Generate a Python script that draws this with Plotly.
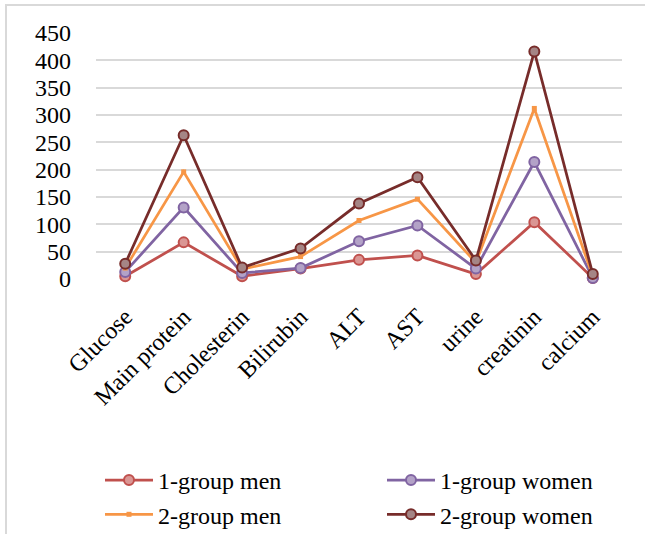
import plotly.graph_objects as go

# Biochemical indicators measured for each group
categories = ["Glucose", "Main protein", "Cholesterin", "Bilirubin", "ALT",
              "AST", "urine", "creatinin", "calcium"]

group1_men = [5, 67, 5, 19, 35, 43, 9, 104, 2]
group1_women = [13, 131, 11, 20, 69, 98, 19, 214, 2]
group2_men = [20, 196, 18, 41, 107, 146, 30, 312, 5]
group2_women = [28, 263, 21, 56, 138, 186, 34, 416, 9]

y_ticks = [0, 50, 100, 150, 200, 250, 300, 350, 400, 450]

W, H = 645, 534
L, R, T, B = 96, 23, 33, 255
pw, ph = W - L - R, H - T - B

serif = "Liberation Serif, Times New Roman, serif"

# (name, values, line colour, marker, legend id)
series = [
    ("1-group men", group1_men, "#C0504D",
     dict(symbol="circle", size=10, color="#DA9694", line=dict(color="#C0504D", width=2)), "legend"),
    ("1-group women", group1_women, "#8064A2",
     dict(symbol="circle", size=10, color="#B3A2C7", line=dict(color="#8064A2", width=2)), "legend2"),
    ("2-group men", group2_men, "#F79646",
     dict(symbol="square", size=5, color="#F79646", line=dict(color="#F79646", width=0)), "legend"),
    ("2-group women", group2_women, "#772C2A",
     dict(symbol="circle", size=10, color="#A58585", line=dict(color="#772C2A", width=2)), "legend2"),
]

fig = go.Figure()
for name, vals, col, mk, lg in series:
    fig.add_trace(go.Scatter(
        x=categories, y=vals, name=name, mode="lines+markers", legendgroup=name,
        line=dict(color=col, width=2.75), marker=mk, cliponaxis=False, legend=lg,
    ))


def px_x(p):
    return (p - L) / pw


def px_y(p):
    return (H - B - p) / ph


# light chart frame (top and left edges)
frame = dict(color="#D9D9D9", width=2)
fig.add_shape(type="line", xref="paper", yref="paper",
              x0=px_x(5), x1=px_x(W + 5), y0=px_y(5), y1=px_y(5), line=frame)
fig.add_shape(type="line", xref="paper", yref="paper",
              x0=px_x(6), x1=px_x(6), y0=px_y(5), y1=px_y(H + 5), line=frame)

legend_style = dict(orientation="v", xanchor="left", yanchor="top",
                    font=dict(size=24), bgcolor="rgba(0,0,0,0)", itemwidth=48,
                    traceorder="grouped", tracegroupgap=0)

fig.update_layout(
    width=W, height=H,
    margin=dict(l=L, r=R, t=T, b=B, autoexpand=False),
    paper_bgcolor="white", plot_bgcolor="white",
    font=dict(family=serif, size=24, color="#000000"),
    xaxis=dict(type="category", tickangle=-45, showgrid=False, showline=False,
               ticks="", tickfont=dict(size=24), range=[-0.5, 8.5],
               automargin=False, ticklabelstandoff=18),
    yaxis=dict(range=[0, 450], tickvals=y_ticks, showgrid=True, gridcolor="#D9D9D9",
               gridwidth=1.5, zeroline=False, showline=False, ticks="",
               tickfont=dict(size=24), ticklabelstandoff=24, automargin=False),
    legend=dict(x=px_x(100), y=px_y(458), **legend_style),
    legend2=dict(x=px_x(382), y=px_y(458), **legend_style),
    showlegend=True,
)

fig.write_html("out.html")
